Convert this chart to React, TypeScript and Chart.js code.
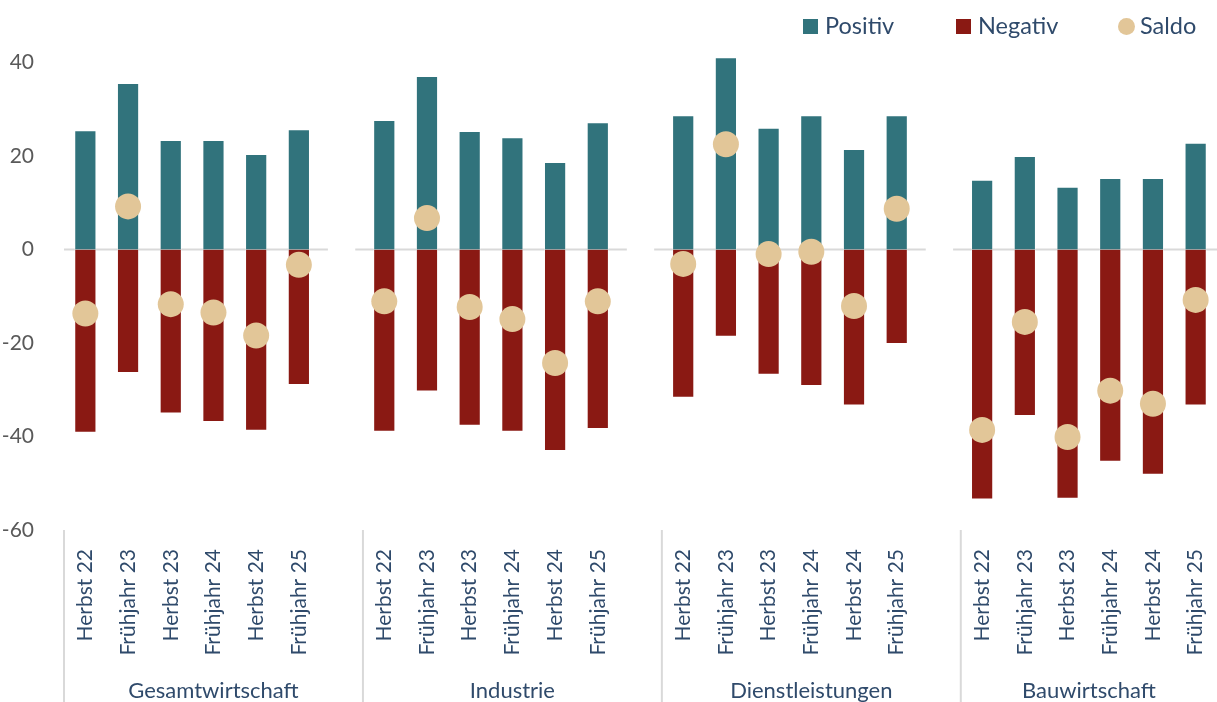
import React, { useEffect, useRef } from 'react';
import { Chart, registerables } from 'chart.js';
Chart.register(...registerables);

const periods = ['Herbst 22', 'Frühjahr 23', 'Herbst 23', 'Frühjahr 24', 'Herbst 24', 'Frühjahr 25'];
const sectors = ['Gesamtwirtschaft', 'Industrie', 'Dienstleistungen', 'Bauwirtschaft'];

const positivGesamt = [25.5, 35.6, 23.4, 23.4, 20.4, 25.7];
const negativGesamt = [-39.2, -26.4, -35.1, -36.9, -38.8, -29.0];
const saldoGesamt = [-13.7, 9.2, -11.7, -13.5, -18.4, -3.3];

const positivIndustrie = [27.7, 37.1, 25.3, 24.0, 18.7, 27.2];
const negativIndustrie = [-39.0, -30.4, -37.7, -39.0, -43.1, -38.4];
const saldoIndustrie = [-11.1, 6.7, -12.3, -14.9, -24.3, -11.1];

const positivDienst = [28.7, 41.1, 26.0, 28.7, 21.5, 28.7];
const negativDienst = [-31.7, -18.7, -26.8, -29.2, -33.4, -20.2];
const saldoDienst = [-3.1, 22.5, -1.0, -0.5, -12.1, 8.7];

const positivBau = [14.9, 20.0, 13.4, 15.3, 15.3, 22.8];
const negativBau = [-53.5, -35.6, -53.3, -45.4, -48.2, -33.4];
const saldoBau = [-38.6, -15.5, -40.1, -30.2, -33.0, -10.8];

const yTicks = [-60, -40, -20, 0, 20, 40];

const positivAll = [positivGesamt, positivIndustrie, positivDienst, positivBau];
const negativAll = [negativGesamt, negativIndustrie, negativDienst, negativBau];
const saldoAll = [saldoGesamt, saldoIndustrie, saldoDienst, saldoBau];

function flatten(groups: (string | number)[][], filler: any) {
  const out: any[] = [];
  groups.forEach((g, i) => {
    out.push(...g);
    if (i < groups.length - 1) out.push(filler);
  });
  return out;
}

const labels = flatten(sectors.map(() => periods), '');
const groupStarts: number[] = [];
sectors.forEach((_, i) => groupStarts.push(i * (periods.length + 1)));
const gapIdx = groupStarts.slice(1).map((s) => s - 1);

const TEAL = '#31737C';
const RED = '#8A1913';
const BEIGE = '#E2C698';
const TEXT = '#2F4A6B';
const GRAY = '#595959';
const LINE = '#D9D9D9';
const FONT = 'Lato, "Open Sans", sans-serif';

const W = 1217;
const H = 702;

const stretch = {
  id: 'stretch',
  afterLayout(chart: any) {
    const x = chart.scales.x;
    const right = chart.width;
    chart.chartArea.right = right;
    chart.chartArea.width = right - chart.chartArea.left;
    x.right = right;
    x.width = right - x.left;
    x.configure();
  },
};

const decor = {
  id: 'decor',
  beforeDatasetsDraw(chart: any) {
    const { ctx, chartArea, scales } = chart;
    const x = scales.x;
    const y = scales.y;
    const w = (chartArea.right - chartArea.left) / labels.length;
    const y0 = y.getPixelForValue(0);
    ctx.save();
    ctx.strokeStyle = LINE;
    ctx.lineWidth = 2;
    let start = chartArea.left;
    const segs: [number, number][] = [];
    gapIdx.forEach((g) => {
      const c = x.getPixelForValue(g);
      segs.push([start, c - 0.32 * w]);
      start = c + 0.32 * w;
    });
    segs.push([start, chartArea.right]);
    segs.forEach(([a, b]) => {
      ctx.beginPath();
      ctx.moveTo(a, y0);
      ctx.lineTo(b, y0);
      ctx.stroke();
    });
    ctx.restore();
  },
  afterDraw(chart: any) {
    const { ctx, chartArea, scales, height } = chart;
    const x = scales.x;
    const w = (chartArea.right - chartArea.left) / labels.length;
    ctx.save();
    ctx.strokeStyle = LINE;
    ctx.lineWidth = 2;
    const edges = groupStarts.map((s) => x.getPixelForValue(s) - w / 2);
    edges.forEach((ex) => {
      ctx.beginPath();
      ctx.moveTo(ex, chartArea.bottom);
      ctx.lineTo(ex, height);
      ctx.stroke();
    });
    ctx.fillStyle = TEXT;
    ctx.font = `22px ${FONT}`;
    ctx.textAlign = 'center';
    ctx.textBaseline = 'alphabetic';
    sectors.forEach((s, i) => {
      const a = edges[i];
      const b = i < edges.length - 1 ? edges[i + 1] : chartArea.right;
      ctx.fillText(s, (a + b) / 2, 698);
    });
    ctx.restore();
  },
};

export default function App() {
  const ref = useRef<HTMLCanvasElement | null>(null);
  useEffect(() => {
    if (!ref.current) return;
    const chart = new Chart(ref.current, {
      type: 'bar',
      data: {
        labels,
        datasets: [
          {
            type: 'line',
            label: 'Saldo',
            data: flatten(saldoAll, null),
            showLine: false,
            pointRadius: 13,
            pointHoverRadius: 13,
            pointBackgroundColor: BEIGE,
            pointBorderColor: BEIGE,
            pointBorderWidth: 0,
            order: 0,
          } as any,
          {
            label: 'Positiv',
            data: flatten(positivAll, null),
            backgroundColor: TEAL,
            borderColor: 'rgba(255,255,255,0.55)',
            borderWidth: 1,
            grouped: false,
            categoryPercentage: 1,
            barPercentage: 0.52,
            order: 1,
          },
          {
            label: 'Negativ',
            data: flatten(negativAll, null),
            backgroundColor: RED,
            borderColor: 'rgba(255,255,255,0.55)',
            borderWidth: 1,
            grouped: false,
            categoryPercentage: 1,
            barPercentage: 0.52,
            order: 1,
          },
        ],
      },
      options: {
        animation: false,
        responsive: false,
        layout: { padding: { top: 39, left: 0, right: 0, bottom: 0 } },
        plugins: {
          legend: { display: false },
          tooltip: { enabled: false },
        },
        scales: {
          x: {
            grid: { display: false },
            border: { display: false },
            ticks: {
              autoSkip: false,
              maxRotation: 90,
              minRotation: 90,
              padding: 11,
              color: TEXT,
              font: { family: FONT, size: 21 },
            },
            afterFit: (s: any) => {
              s.height = 172;
              s.paddingLeft = 0;
              s.paddingRight = 0;
            },
          },
          y: {
            min: -60,
            max: 45,
            grid: { display: false },
            border: { display: false },
            afterBuildTicks: (s: any) => {
              s.ticks = yTicks.map((v) => ({ value: v }));
            },
            ticks: {
              padding: 22,
              color: GRAY,
              font: { family: FONT, size: 21 },
            },
            afterFit: (s: any) => {
              s.width = 64;
            },
          },
        },
      },
      plugins: [stretch, decor],
    });
    return () => chart.destroy();
  }, []);

  const legendText: React.CSSProperties = {
    position: 'absolute',
    top: 10,
    fontFamily: FONT,
    fontSize: 23.5,
    color: TEXT,
    lineHeight: '30px',
    whiteSpace: 'nowrap',
  };

  return (
    <div style={{ position: 'fixed', left: 0, top: 0, width: W, height: H, background: '#fff' }}>
      <canvas ref={ref} width={W} height={H} style={{ display: 'block', width: W, height: H }} />
      <div style={{ position: 'absolute', left: 803, top: 19, width: 15, height: 15, background: TEAL }} />
      <span style={{ ...legendText, left: 825 }}>Positiv</span>
      <div style={{ position: 'absolute', left: 956, top: 19, width: 15, height: 15, background: RED }} />
      <span style={{ ...legendText, left: 978 }}>Negativ</span>
      <div style={{ position: 'absolute', left: 1118, top: 18, width: 17, height: 17, borderRadius: '50%', background: BEIGE }} />
      <span style={{ ...legendText, left: 1140 }}>Saldo</span>
    </div>
  );
}
